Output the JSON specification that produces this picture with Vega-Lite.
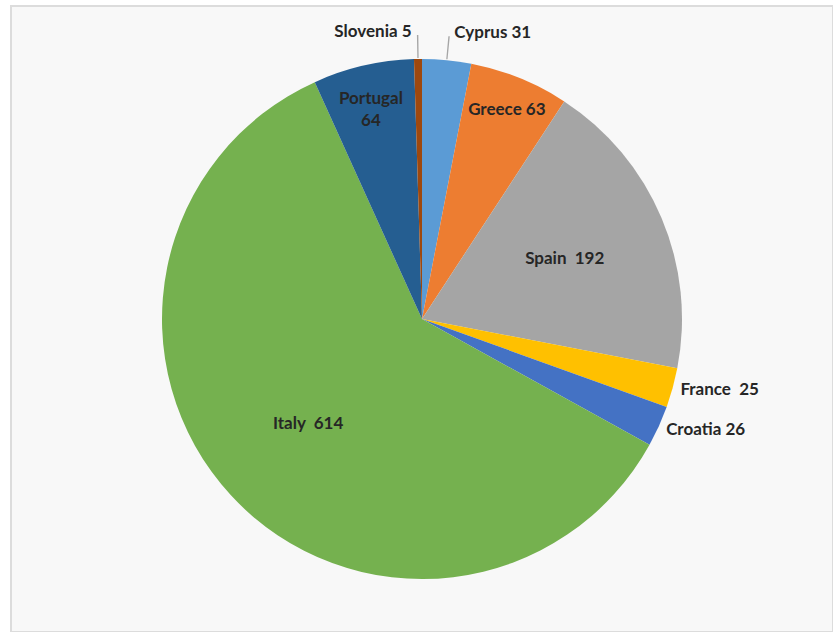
{
  "$schema": "https://vega.github.io/schema/vega-lite/v6.json",
  "width": 822,
  "height": 626,
  "padding": {"left": 11, "top": 6, "right": 0, "bottom": 0},
  "autosize": {"type": "none"},
  "background": "white",
  "view": {"fill": "#f8f8f8", "stroke": "#dcdcdc", "strokeWidth": 2},
  "data": {"values": [
    {"country": "Cyprus", "value": 31},
    {"country": "Greece", "value": 63},
    {"country": "Spain", "value": 192},
    {"country": "France", "value": 25},
    {"country": "Croatia", "value": 26},
    {"country": "Italy", "value": 614},
    {"country": "Portugal", "value": 64},
    {"country": "Slovenia", "value": 5}
  ]},
  "transform": [
    {"window": [{"op": "row_number", "as": "idx"}]},
    {"joinaggregate": [{"op": "sum", "field": "value", "as": "total"}]},
    {"window": [{"op": "sum", "field": "value", "as": "cum"}], "sort": [{"field": "idx"}], "frame": [null, 0]},
    {"calculate": "(datum.cum - datum.value / 2) / datum.total * 2 * PI", "as": "mid"},
    {"calculate": "datum.country === 'Portugal' ? datum.country + '\\n' + datum.value : (datum.country === 'Spain' || datum.country === 'Italy' || datum.country === 'France' ? datum.country + '\u00a0 ' + datum.value : datum.country + ' ' + datum.value)", "as": "label"}
  ],
  "layer": [
    {
      "mark": {"type": "arc", "outerRadius": 260},
      "encoding": {
        "theta": {"field": "value", "type": "quantitative", "stack": true},
        "order": {"field": "idx", "type": "quantitative"},
        "color": {
          "field": "country", "type": "nominal", "legend": null,
          "scale": {
            "domain": ["Cyprus", "Greece", "Spain", "France", "Croatia", "Italy", "Portugal", "Slovenia"],
            "range": ["#5B9BD5", "#ED7D31", "#A5A5A5", "#FFC000", "#4472C4", "#75B14F", "#255E91", "#9E480E"]
          }
        }
      }
    },
    {
      "transform": [
        {"filter": "datum.country === 'Cyprus' || datum.country === 'Slovenia'"},
        {"calculate": "datum.mid - 0.0025", "as": "m1"},
        {"calculate": "datum.mid + 0.0025", "as": "m2"}
      ],
      "mark": {"type": "arc", "radius": 261, "radius2": 284, "color": "#a6a6a6"},
      "encoding": {
        "theta": {"field": "m1", "type": "quantitative", "scale": null},
        "theta2": {"field": "m2"}
      }
    },
    {
      "transform": [{"filter": "datum.country === 'Italy' || datum.country === 'Spain'"}],
      "mark": {"type": "text", "radius": 155, "font": "Lato", "fontWeight": "bold", "fontSize": 17, "color": "#262626"},
      "encoding": {
        "theta": {"field": "mid", "type": "quantitative", "scale": null},
        "text": {"field": "label"}
      }
    },
    {
      "transform": [{"filter": "datum.country === 'Greece' || datum.country === 'Portugal'"}],
      "mark": {"type": "text", "radius": 226, "font": "Lato", "fontWeight": "bold", "fontSize": 17, "color": "#262626", "lineBreak": "\n", "lineHeight": 22},
      "encoding": {
        "theta": {"field": "mid", "type": "quantitative", "scale": null},
        "text": {"field": "label"}
      }
    },
    {
      "transform": [{"filter": "datum.country === 'France' || datum.country === 'Croatia'"}],
      "mark": {"type": "text", "radius": 268, "align": "left", "font": "Lato", "fontWeight": "bold", "fontSize": 17, "color": "#262626"},
      "encoding": {
        "theta": {"field": "mid", "type": "quantitative", "scale": null},
        "text": {"field": "label"}
      }
    },
    {
      "transform": [{"filter": "datum.country === 'Cyprus'"}],
      "mark": {"type": "text", "radius": 287, "align": "left", "dx": 5, "font": "Lato", "fontWeight": "bold", "fontSize": 17, "color": "#262626"},
      "encoding": {
        "theta": {"field": "mid", "type": "quantitative", "scale": null},
        "text": {"field": "label"}
      }
    },
    {
      "transform": [{"filter": "datum.country === 'Slovenia'"}],
      "mark": {"type": "text", "radius": 287, "align": "right", "dx": -6, "font": "Lato", "fontWeight": "bold", "fontSize": 17, "color": "#262626"},
      "encoding": {
        "theta": {"field": "mid", "type": "quantitative", "scale": null},
        "text": {"field": "label"}
      }
    }
  ]
}
